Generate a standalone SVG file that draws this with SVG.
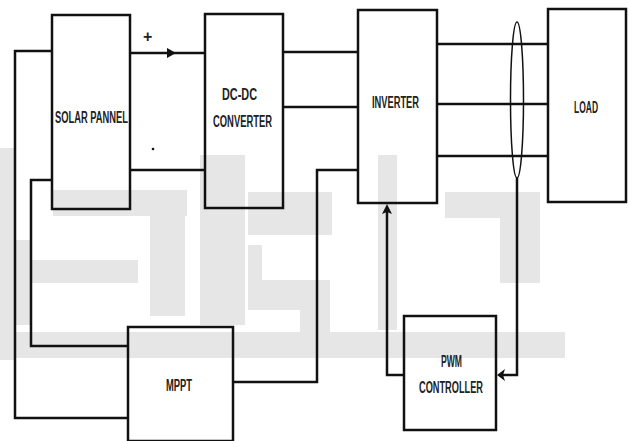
<svg xmlns="http://www.w3.org/2000/svg" width="629" height="441" viewBox="0 0 629 441">
<style>
.box{fill:none;stroke:#111;stroke-width:2.5}
.w{fill:#e6e6e6}
.c{fill:none;stroke:#111;stroke-width:2.5}
.t{font-family:"Liberation Sans Narrow","Liberation Sans",Arial,sans-serif;font-weight:bold;font-size:16px;fill:#222;text-anchor:start}
</style>
<rect width="629" height="441" fill="#fff"/>
<g id="watermark">
<rect class="w" x="0" y="148" width="15" height="212"/>
<rect class="w" x="15" y="240" width="16" height="85"/>
<rect class="w" x="53" y="190" width="134" height="26"/>
<rect class="w" x="31" y="260" width="107" height="23"/>
<rect class="w" x="150" y="216" width="35" height="100"/>
<rect class="w" x="200" y="155" width="45" height="170"/>
<rect class="w" x="248" y="192" width="84" height="43"/>
<rect class="w" x="248" y="245" width="14" height="65"/>
<rect class="w" x="262" y="280" width="68" height="30"/>
<rect class="w" x="300" y="310" width="30" height="22"/>
<rect class="w" x="378" y="155" width="19" height="175"/>
<rect class="w" x="445" y="192" width="95" height="26"/>
<rect class="w" x="500" y="218" width="40" height="65"/>
<rect class="w" x="0" y="332" width="565" height="26"/>
</g>
<g id="connectors">
<line class="c" x1="130" y1="53" x2="205" y2="53"/>
<path d="M167,48 L176,53 L167,58 Z" fill="#111"/>
<line class="c" x1="130" y1="170" x2="205" y2="170"/>
<line class="c" x1="283" y1="52" x2="358" y2="52"/>
<line class="c" x1="283" y1="107" x2="358" y2="107"/>
<line class="c" x1="437" y1="44" x2="548" y2="44"/>
<line class="c" x1="437" y1="104" x2="548" y2="104"/>
<line class="c" x1="437" y1="156" x2="548" y2="156"/>
<ellipse cx="517" cy="100" rx="6.5" ry="78" fill="none" stroke="#111" stroke-width="1.5"/>
<polyline class="c" stroke-width="2" points="517,178 517,375 500,375"/>
<path d="M497,375 L505,369 L503,375 L505,381 Z" fill="#111"/>
<polyline class="c" stroke-width="2" points="404,375 387,375 387,212"/>
<path d="M387,204 L382,214 L387,212 L392,214 Z" fill="#111"/>
<polyline class="c" stroke-width="2" points="358,170 317,170 317,382 233,382"/>
<polyline class="c" stroke-width="2" points="52,51 15,51 15,418 128,418"/>
<polyline class="c" stroke-width="2" points="52,180 31,180 31,346 128,346"/>
</g>
<g id="solar">
<rect class="box" x="52" y="15" width="78" height="194"/>
<text class="t" x="55" y="123" textLength="73" lengthAdjust="spacingAndGlyphs">SOLAR PANNEL</text>
</g>
<g id="signs">
<text class="t" x="143" y="42" font-size="13">+</text>
<circle cx="153" cy="149" r="1.3" fill="#111"/>
</g>
<g id="dcdc">
<rect class="box" x="205" y="14" width="78" height="194"/>
<text class="t" x="222" y="100" textLength="35" lengthAdjust="spacingAndGlyphs">DC-DC</text>
<text class="t" x="213" y="127" textLength="59" lengthAdjust="spacingAndGlyphs">CONVERTER</text>
</g>
<g id="inverter">
<rect class="box" x="358" y="10" width="79" height="193"/>
<text class="t" x="372" y="108" textLength="47" lengthAdjust="spacingAndGlyphs">INVERTER</text>
</g>
<g id="load">
<rect class="box" x="548" y="9" width="78" height="193"/>
<text class="t" x="574" y="113" textLength="24" lengthAdjust="spacingAndGlyphs">LOAD</text>
</g>
<g id="mppt">
<rect class="box" x="128" y="327" width="105" height="114"/>
<text class="t" x="166" y="391" textLength="26" lengthAdjust="spacingAndGlyphs">MPPT</text>
</g>
<g id="pwm">
<rect class="box" x="404" y="316" width="92" height="114"/>
<text class="t" x="441" y="367" textLength="21" lengthAdjust="spacingAndGlyphs">PWM</text>
<text class="t" x="419" y="393" textLength="64" lengthAdjust="spacingAndGlyphs">CONTROLLER</text>
</g>
</svg>
